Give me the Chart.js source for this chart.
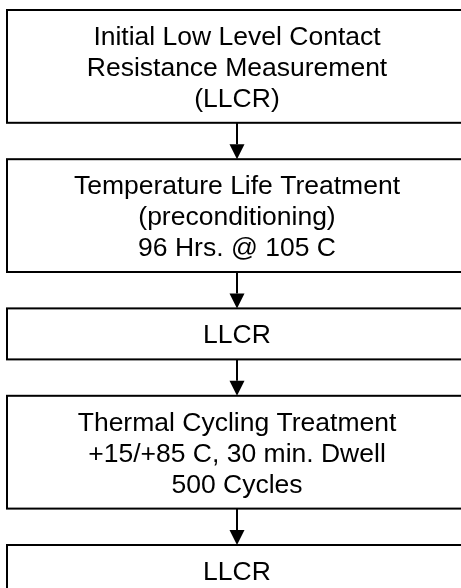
<!DOCTYPE html>
<html>
<head>
<meta charset="utf-8">
<script src="https://cdn.jsdelivr.net/npm/chart.js@4.4.1/dist/chart.umd.min.js"></script>
<style>
  html, body { margin: 0; padding: 0; background: #fff; }
  canvas { display: block; }
</style>
</head>
<body>
<canvas id="flow" width="461" height="588"></canvas>
<script>
// steps of the test sequence, one array of text lines per box
const steps = [
    ['Initial Low Level Contact', 'Resistance Measurement', '(LLCR)'],
    ['Temperature Life Treatment', '(preconditioning)', '96 Hrs. @ 105 C'],
    ['LLCR'],
    ['Thermal Cycling Treatment', '+15/+85 C, 30 min. Dwell', '500 Cycles'],
    ['LLCR']
];

// layout, in scale units (the scales run 1:1 with the canvas)
const boxLeft = 7, boxRight = 467, arrowX = 237;
const firstTop = 10, lineH = 30.9, padV = 20.1, gap = 36.4;
const fontSize = 26.5;

// box extents worked out from the number of lines in each step
const boxes = [];
let cursor = firstTop;
steps.forEach(lines => {
    const h = lines.length * lineH + padV;
    boxes.push({ top: cursor, bottom: cursor + h, lines: lines });
    cursor += h + gap;
});

const flowPlugin = {
    id: 'flow',
    afterDraw(chart) {
        const { ctx, scales: { x, y } } = chart;
        ctx.save();
        ctx.strokeStyle = '#000';
        ctx.fillStyle = '#000';
        ctx.lineWidth = 2;

        boxes.forEach((b, i) => {
            const x0 = x.getPixelForValue(boxLeft), x1 = x.getPixelForValue(boxRight);
            const y0 = y.getPixelForValue(b.top), y1 = y.getPixelForValue(b.bottom);
            ctx.strokeRect(x0, y0, x1 - x0, y1 - y0);

            // text, centred in the box
            ctx.font = fontSize + 'px "Liberation Sans", Arial, sans-serif';
            ctx.textAlign = 'center';
            ctx.textBaseline = 'alphabetic';
            const mid = (b.top + b.bottom) / 2;
            const n = b.lines.length;
            b.lines.forEach((t, k) => {
                const base = mid + (k - (n - 1) / 2) * lineH + fontSize * 0.716 / 2;
                ctx.fillText(t, x.getPixelForValue(arrowX), y.getPixelForValue(base));
            });

            // arrow down to the next box
            if (i < boxes.length - 1) {
                const ax = x.getPixelForValue(arrowX);
                const ya = y.getPixelForValue(b.bottom);
                const yb = y.getPixelForValue(boxes[i + 1].top);
                const head = 15;
                ctx.beginPath();
                ctx.moveTo(ax, ya);
                ctx.lineTo(ax, yb - head);
                ctx.stroke();
                ctx.beginPath();
                ctx.moveTo(ax - head / 2, yb - head);
                ctx.lineTo(ax + head / 2, yb - head);
                ctx.lineTo(ax, yb);
                ctx.closePath();
                ctx.fill();
            }
        });
        ctx.restore();
    }
};

const ctx = document.getElementById('flow').getContext('2d');
const flow = new Chart(ctx, {
    type: 'scatter',
    data: {
        datasets: [{
            label: 'steps',
            data: boxes.map(b => ({ x: arrowX, y: (b.top + b.bottom) / 2 })),
            pointRadius: 0
        }]
    },
    options: {
        responsive: false,
        animation: false,
        events: [],
        layout: { padding: 0 },
        plugins: {
            legend: { display: false },
            tooltip: { enabled: false }
        },
        scales: {
            x: { type: 'linear', min: 0, max: 461, display: false },
            y: { type: 'linear', min: 0, max: 588, reverse: true, display: false }
        }
    },
    plugins: [flowPlugin]
});
</script>
</body>
</html>
